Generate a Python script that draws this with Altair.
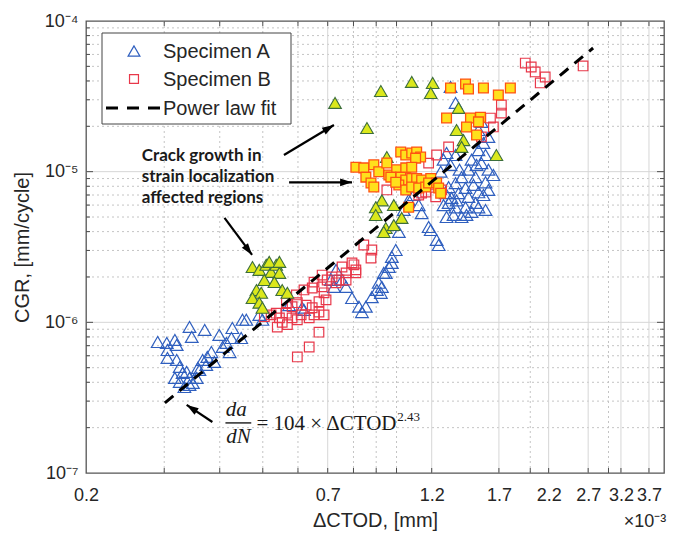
import altair as alt
import pandas as pd

W, H = 578, 452

# ---------------- data (x in units of 1e-3 mm, y in mm/cycle) ----------------
spec_a = [
    (0.290, 7.4e-7), (0.304, 7.3e-7), (0.317, 7.64e-7), (0.320, 7.08e-7), (0.305, 6.55e-7),
    (0.305, 5.8e-7), (0.320, 5.63e-7), (0.325, 5.06e-7), (0.317, 4.28e-7), (0.325, 4.02e-7),
    (0.337, 4.69e-7), (0.342, 4.28e-7), (0.348, 3.96e-7), (0.333, 3.72e-7), (0.342, 9.32e-7),
    (0.346, 8.0e-7), (0.370, 8.9e-7), (0.357, 4.98e-7), (0.366, 5.63e-7), (0.375, 5.89e-7),
    (0.383, 6.35e-7), (0.399, 8.25e-7), (0.406, 6.86e-7), (0.414, 7.3e-7), (0.425, 7.87e-7),
    (0.421, 6.35e-7), (0.427, 9.17e-7), (0.447, 7.87e-7), (0.450, 1.04e-6), (0.459, 1.04e-6),
    (0.389, 5.46e-7), (0.373, 5.21e-7), (0.330, 4.62e-7), (0.342, 3.84e-7), (0.355, 4.28e-7),
    (0.360, 4.83e-7),
    (0.731, 2.23e-6), (0.754, 1.91e-6), (0.770, 1.72e-6), (0.794, 1.45e-6), (0.823, 1.27e-6),
    (0.836, 1.17e-6), (0.853, 1.27e-6), (0.880, 1.47e-6), (0.903, 1.64e-6), (0.912, 1.83e-6),
    (0.936, 2.13e-6), (0.976, 2.48e-6), (0.619, 1.21e-6), (0.712, 1.91e-6), (0.723, 1.72e-6),
    (0.613, 1.25e-6), (0.499, 1.04e-6), (0.491, 1.12e-6), (0.573, 1.30e-6),
    (1.012, 3.98e-6), (0.996, 3.02e-6), (0.976, 2.72e-6), (0.961, 2.33e-6), (0.946, 2.13e-6),
    (0.927, 1.72e-6), (0.922, 1.57e-6), (1.181, 4.29e-6), (1.231, 3.52e-6), (1.244, 3.26e-6),
    (1.296, 1.33e-5), (1.358, 1.29e-5), (1.529, 1.39e-5), (1.586, 1.29e-5), (1.475, 1.20e-5),
    (1.553, 1.14e-5), (1.610, 1.03e-5), (1.452, 1.03e-5), (1.506, 9.2e-6), (1.586, 8.5e-6),
    (1.401, 9.2e-6), (1.358, 8.4e-6), (1.310, 7.9e-6), (1.290, 7.2e-6), (1.330, 6.7e-6),
    (1.379, 7.2e-6), (1.430, 7.8e-6), (1.452, 6.8e-6), (1.529, 7.3e-6), (1.506, 6.2e-6),
    (1.430, 5.8e-6), (1.358, 5.8e-6), (1.310, 6.2e-6), (1.296, 5.0e-6), (1.344, 5.16e-6),
    (1.401, 5.0e-6), (1.475, 5.4e-6), (1.529, 5.8e-6), (1.586, 5.57e-6), (1.276, 1.20e-5),
    (1.257, 1.0e-5),
    (1.323, 1.11e-5), (1.386, 1.03e-5), (1.490, 8.16e-6), (1.569, 7.0e-6), (1.365, 6.45e-6),
    (1.437, 5.16e-6), (1.276, 6.0e-6), (1.610, 7.56e-6), (1.514, 1.11e-5), (1.652, 9.5e-6),
    (1.323, 3.65e-5), (1.358, 2.86e-5), (1.553, 2.14e-5), (1.529, 1.89e-5), (1.610, 1.70e-5),
    (1.569, 1.55e-5), (1.194, 4.10e-6), (1.139, 5.3e-6), (1.065, 6.5e-6), (1.093, 7.0e-6),
    (1.038, 5.57e-6), (1.122, 6.0e-6),
]

spec_a_local = [
    (0.727, 2.86e-5), (0.922, 3.43e-5), (1.082, 3.94e-5), (1.206, 3.88e-5), (1.194, 3.33e-5),
    (0.858, 1.95e-5), (1.379, 2.65e-5), (1.365, 1.89e-5), (1.415, 1.62e-5), (1.401, 1.46e-5),
    (1.678, 1.29e-5), (0.951, 1.25e-5), (0.927, 6.45e-6), (0.986, 6.0e-6), (0.898, 5.8e-6),
    (0.898, 5.16e-6), (1.027, 4.93e-6), (0.946, 4.23e-6), (0.936, 3.98e-6), (0.986, 4.42e-6),
    (0.474, 2.33e-6), (0.491, 2.23e-6), (0.509, 2.41e-6), (0.522, 2.16e-6), (0.536, 2.41e-6),
    (0.545, 2.13e-6), (0.484, 1.64e-6), (0.496, 1.57e-6), (0.474, 1.45e-6), (0.491, 1.35e-6),
    (0.499, 1.25e-6), (0.553, 1.64e-6), (0.568, 1.57e-6), (0.517, 2.52e-6), (0.545, 2.52e-6),
    (0.504, 1.91e-6), (0.531, 1.85e-6),
]

spec_b = [
    (0.504, 1.09e-6), (0.522, 1.12e-6), (0.536, 1.15e-6), (0.545, 1.07e-6), (0.553, 1.0e-6),
    (0.539, 9.3e-7), (0.565, 1.15e-6), (0.582, 1.07e-6), (0.568, 9.65e-7), (0.598, 1.04e-6),
    (0.610, 1.12e-6), (0.636, 1.07e-6), (0.652, 1.12e-6), (0.669, 1.17e-6), (0.687, 1.12e-6),
    (0.646, 1.25e-6), (0.626, 1.30e-6), (0.598, 1.35e-6), (0.582, 1.27e-6), (0.565, 1.35e-6),
    (0.595, 1.52e-6), (0.619, 1.64e-6), (0.646, 1.69e-6), (0.680, 1.72e-6), (0.652, 1.85e-6),
    (0.680, 2.06e-6), (0.698, 1.91e-6), (0.716, 2.0e-6), (0.687, 1.57e-6), (0.694, 1.41e-6),
    (0.669, 1.37e-6), (0.598, 5.89e-7), (0.636, 6.86e-7), (0.669, 8.6e-7), (0.754, 2.33e-6),
    (0.802, 2.41e-6), (0.810, 2.13e-6), (0.770, 1.91e-6), (0.731, 1.83e-6), (0.844, 3.26e-6),
    (0.880, 3.02e-6), (0.876, 2.67e-6), (0.794, 2.48e-6), (0.810, 2.23e-6), (0.770, 2.13e-6),
    (0.742, 1.91e-6), (0.951, 7.56e-6), (1.231, 1.29e-5), (1.181, 1.14e-5), (1.310, 1.46e-5),
    (1.627, 2.27e-5), (1.722, 2.45e-5), (1.722, 2.77e-5), (1.652, 1.98e-5), (1.949, 5.26e-5),
    (2.010, 4.95e-5), (2.052, 4.59e-5), (2.106, 3.88e-5), (2.161, 4.25e-5), (1.553, 1.70e-5),
    (1.194, 8.16e-6), (1.139, 7.2e-6), (1.225, 6.8e-6), (1.263, 7.56e-6), (2.630, 5.03e-5),
    (1.122, 7.0e-6), (1.163, 7.33e-6),
]

spec_b_local = [
    (0.810, 1.07e-5), (0.844, 1.06e-5), (0.889, 1.11e-5), (0.912, 1.0e-5), (0.853, 9.2e-6),
    (0.876, 8.4e-6), (0.889, 7.9e-6), (0.951, 1.14e-5), (0.961, 9.5e-6), (1.001, 1.03e-5),
    (1.022, 1.35e-5), (1.049, 1.29e-5), (1.082, 1.33e-5), (1.110, 1.35e-5), (1.133, 1.25e-5),
    (1.104, 1.23e-5), (1.049, 1.06e-5), (1.082, 1.07e-5), (1.022, 9.2e-6), (1.049, 8.8e-6),
    (1.082, 9.0e-6), (1.110, 9.0e-6), (1.139, 8.8e-6), (1.194, 9.0e-6), (1.012, 8.16e-6),
    (1.049, 7.56e-6), (1.082, 7.9e-6), (1.122, 7.8e-6), (1.163, 7.9e-6), (1.065, 5.8e-6),
    (1.181, 8.4e-6), (1.231, 8.4e-6), (1.244, 7.8e-6), (1.257, 7.2e-6), (0.971, 9.2e-6),
    (0.996, 8.5e-6),
    (1.323, 3.59e-5), (1.430, 3.82e-5), (1.452, 3.54e-5), (1.569, 3.59e-5), (1.804, 3.59e-5),
    (1.695, 3.23e-5), (1.296, 2.27e-5), (1.467, 2.27e-5), (1.545, 2.30e-5), (1.529, 2.14e-5),
    (1.437, 1.98e-5), (1.514, 1.75e-5),
]

fit_x = [0.301, 2.77]
fit_y = [2.92e-7, 6.62e-5]

x_label_vals = [0.2, 0.7, 1.2, 1.7, 2.2, 2.7, 3.2, 3.7]
x_minor_vals = [0.3, 0.4, 0.5, 0.6, 0.8, 0.9, 1.0, 2.0, 3.0]
x_tick_vals = [0.3, 0.4, 0.5, 0.6, 0.7, 0.8, 0.9, 1.0, 1.2, 1.7, 2.0, 2.2, 2.7, 3.0, 3.2, 3.7]
y_decades = [1e-7, 1e-6, 1e-5, 1e-4]
y_minor_vals = [m * 10.0 ** e for e in (-7, -6, -5) for m in range(2, 10)]

arrow_x0 = [0.558, 0.573, 0.410, 0.385]
arrow_y0 = [1.29e-5, 8.5e-6, 4.93e-6, 2.18e-7]
arrow_x1 = [0.723, 0.794, 0.473, 0.337]
arrow_y1 = [2.04e-5, 8.5e-6, 2.8e-6, 2.83e-7]
arrow_angle = [59, 90, 143, 303]

note_lines = ["Crack growth in", "strain localization", "affected regions"]
note_x = [0.267, 0.267, 0.267]
note_y = [1.186e-5, 8.5e-6, 6.16e-6]

# ---------------- styling ----------------
FONT = "Liberation Sans"
TXT = "#262626"
xs = alt.Scale(type="log", domain=[0.2, 4.0], nice=False)
ys = alt.Scale(type="log", domain=[1e-7, 1e-4], nice=False)

x_axis = alt.Axis(values=x_label_vals, format=".1f", grid=False, ticks=False, tickSize=0,
                  domain=False, labelFontSize=18, labelFont=FONT, labelColor=TXT,
                  labelPadding=13, labelOverlap=False, labelFlush=False,
                  title="ΔCTOD, [mm]", titleFont=FONT, titleFontSize=20,
                  titleFontWeight="normal", titleColor=TXT, titlePadding=6)
y_axis = alt.Axis(values=y_decades, grid=False, ticks=False, tickSize=0, domain=False,
                  labelExpr="['10⁻⁷','10⁻⁶','10⁻⁵','10⁻⁴'][round(log(datum.value)/LN10)+7]",
                  labelFontSize=18, labelFont=FONT, labelColor=TXT, labelPadding=8,
                  title="CGR, [mm/cycle]", titleFont=FONT, titleFontSize=20,
                  titleFontWeight="normal", titleColor=TXT, titlePadding=12)


def X(f):
    return alt.X(f, scale=xs, axis=x_axis)


def Y(f):
    return alt.Y(f, scale=ys, axis=y_axis)


def pts(rows):
    return pd.DataFrame(rows, columns=["x", "y"])


def vals(v):
    return pd.DataFrame({"v": v})


one = pd.DataFrame({"k": [0]})

layers = []

# grid
layers.append(alt.Chart(vals(x_minor_vals)).mark_rule(color="#c4c4c4", strokeWidth=1, strokeDash=[2, 3])
              .encode(x=X("v:Q")))
layers.append(alt.Chart(vals(y_minor_vals)).mark_rule(color="#c4c4c4", strokeWidth=1, strokeDash=[2, 3])
              .encode(y=Y("v:Q")))
layers.append(alt.Chart(vals(x_label_vals[1:])).mark_rule(color="#d6d6d6", strokeWidth=1)
              .encode(x=X("v:Q")))
layers.append(alt.Chart(vals(y_decades[1:3])).mark_rule(color="#d6d6d6", strokeWidth=1)
              .encode(y=Y("v:Q")))

# data series
layers.append(alt.Chart(pts(spec_a)).mark_point(shape="triangle-up", filled=False, size=160,
                                                 color="#2f5fbf", strokeWidth=1.2, opacity=1)
              .encode(x=X("x:Q"), y=Y("y:Q")))
layers.append(alt.Chart(pts(spec_b)).mark_square(filled=False, size=92, color="#e8384a",
                                                  strokeWidth=1.2, opacity=1)
              .encode(x=X("x:Q"), y=Y("y:Q")))
layers.append(alt.Chart(pts(spec_a_local)).mark_point(shape="triangle-up", filled=True, size=160,
                                                       fill="#dbe81c", stroke="#3c6e3c",
                                                       strokeWidth=1.1, opacity=1)
              .encode(x=X("x:Q"), y=Y("y:Q")))
layers.append(alt.Chart(pts(spec_b_local)).mark_square(filled=True, size=95, fill="#ffe01c",
                                                        stroke="#ff5212", strokeWidth=1.3, opacity=1)
              .encode(x=X("x:Q"), y=Y("y:Q")))

# power-law fit
layers.append(alt.Chart(pd.DataFrame({"x": fit_x, "y": fit_y})).mark_line(
    color="black", strokeWidth=3, strokeDash=[11, 8])
    .encode(x=X("x:Q"), y=Y("y:Q")))

# arrows
arr = pd.DataFrame({"x0": arrow_x0, "y0": arrow_y0, "x1": arrow_x1, "y1": arrow_y1, "ang": arrow_angle})
layers.append(alt.Chart(arr).mark_rule(color="black", strokeWidth=2.2)
              .encode(x=X("x0:Q"), y=Y("y0:Q"), x2="x1:Q", y2="y1:Q"))
layers.append(alt.Chart(arr).mark_point(shape="M0,0L-0.55,1.7L0.55,1.7Z", filled=True, size=196,
                                        color="black", opacity=1)
              .encode(x=X("x1:Q"), y=Y("y1:Q"), angle=alt.Angle("ang:Q", scale=None)))

# annotation text
notes = pd.DataFrame({"t": note_lines, "x": note_x, "y": note_y})
layers.append(alt.Chart(notes).mark_text(align="left", baseline="alphabetic", font="Lato",
                                         fontWeight="bold", fontSize=17, color="#1a1a1a")
              .encode(x=X("x:Q"), y=Y("y:Q"), text="t:N"))

# equation  da/dN = 104 x dCTOD^2.43
eq = pd.DataFrame({
    "t": ["da", "dN", "= 104 × ΔCTOD"],
    "x": [0.436, 0.441, 1.0],
    "y": [2.39e-7, 1.585e-7, 1.93e-7],
    "a": ["center", "center", "right"],
    "st": ["italic", "italic", "normal"],
})
for i in range(3):
    layers.append(alt.Chart(eq.iloc[[i]]).mark_text(align=eq["a"][i], baseline="alphabetic",
                                                    font="Liberation Serif", fontSize=21,
                                                    fontStyle=eq["st"][i], color="#1a1a1a")
                  .encode(x=X("x:Q"), y=Y("y:Q"), text="t:N"))
layers.append(alt.Chart(pd.DataFrame({"t": ["2.43"], "x": [1.004], "y": [2.22e-7]}))
              .mark_text(align="left", baseline="alphabetic", font="Liberation Serif", fontSize=13,
                         color="#1a1a1a")
              .encode(x=X("x:Q"), y=Y("y:Q"), text="t:N"))
layers.append(alt.Chart(pd.DataFrame({"x0": [0.412], "x1": [0.471], "y": [2.15e-7]}))
              .mark_rule(color="#1a1a1a", strokeWidth=1.4)
              .encode(x=X("x0:Q"), x2="x1:Q", y=Y("y:Q")))

# x10^-3 multiplier
layers.append(alt.Chart(one).mark_text(text="×10⁻³", fontSize=18, font=FONT, color=TXT,
                                       align="center", baseline="middle")
              .encode(x=alt.value(559), y=alt.value(501)))

# legend (drawn inside plot)
layers.append(alt.Chart(one).mark_rect(fill="white", stroke="#444444", strokeWidth=1)
              .encode(x=alt.value(16), x2=alt.value(205), y=alt.value(12), y2=alt.value(103)))
layers.append(alt.Chart(one).mark_point(shape="triangle-up", filled=False, size=140, color="#2f5fbf",
                                        strokeWidth=1.2, opacity=1)
              .encode(x=alt.value(48), y=alt.value(30)))
layers.append(alt.Chart(one).mark_square(filled=False, size=80, color="#e8384a", strokeWidth=1.2, opacity=1)
              .encode(x=alt.value(48), y=alt.value(58)))
layers.append(alt.Chart(one).mark_rule(color="black", strokeWidth=3, strokeDash=[12, 9])
              .encode(x=alt.value(20), x2=alt.value(75), y=alt.value(87)))
leg = pd.DataFrame({"t": ["Specimen A", "Specimen B", "Power law fit"], "py": [31, 59, 88]})
layers.append(alt.Chart(leg).mark_text(align="left", baseline="middle", fontSize=20, font=FONT, color=TXT)
              .encode(x=alt.value(77), y=alt.Y("py:Q", scale=None, axis=None), text="t:N"))

# inward box ticks
tick_col = "#4d4d4d"
for yv in (H, 0):
    y2v = H - 5 if yv == H else 5
    layers.append(alt.Chart(vals(x_tick_vals)).mark_rule(color=tick_col, strokeWidth=1)
                  .encode(x=X("v:Q"), y=alt.value(yv), y2=alt.value(y2v)))
for xv in (0, W):
    sgn = 1 if xv == 0 else -1
    layers.append(alt.Chart(vals(y_decades[1:3])).mark_rule(color=tick_col, strokeWidth=1)
                  .encode(y=Y("v:Q"), x=alt.value(xv), x2=alt.value(xv + sgn * 7)))
    layers.append(alt.Chart(vals(y_minor_vals)).mark_rule(color=tick_col, strokeWidth=1)
                  .encode(y=Y("v:Q"), x=alt.value(xv), x2=alt.value(xv + sgn * 4)))

chart = alt.layer(*layers).properties(
    width=W, height=H,
    padding={"left": 86, "top": 21, "right": 14, "bottom": 63},
    autosize=alt.AutoSizeParams(type="none"),
    background="white",
).configure_view(stroke="#555555", strokeWidth=1.3)

chart.save("out.html", embed_options={"renderer": "svg", "actions": False})
